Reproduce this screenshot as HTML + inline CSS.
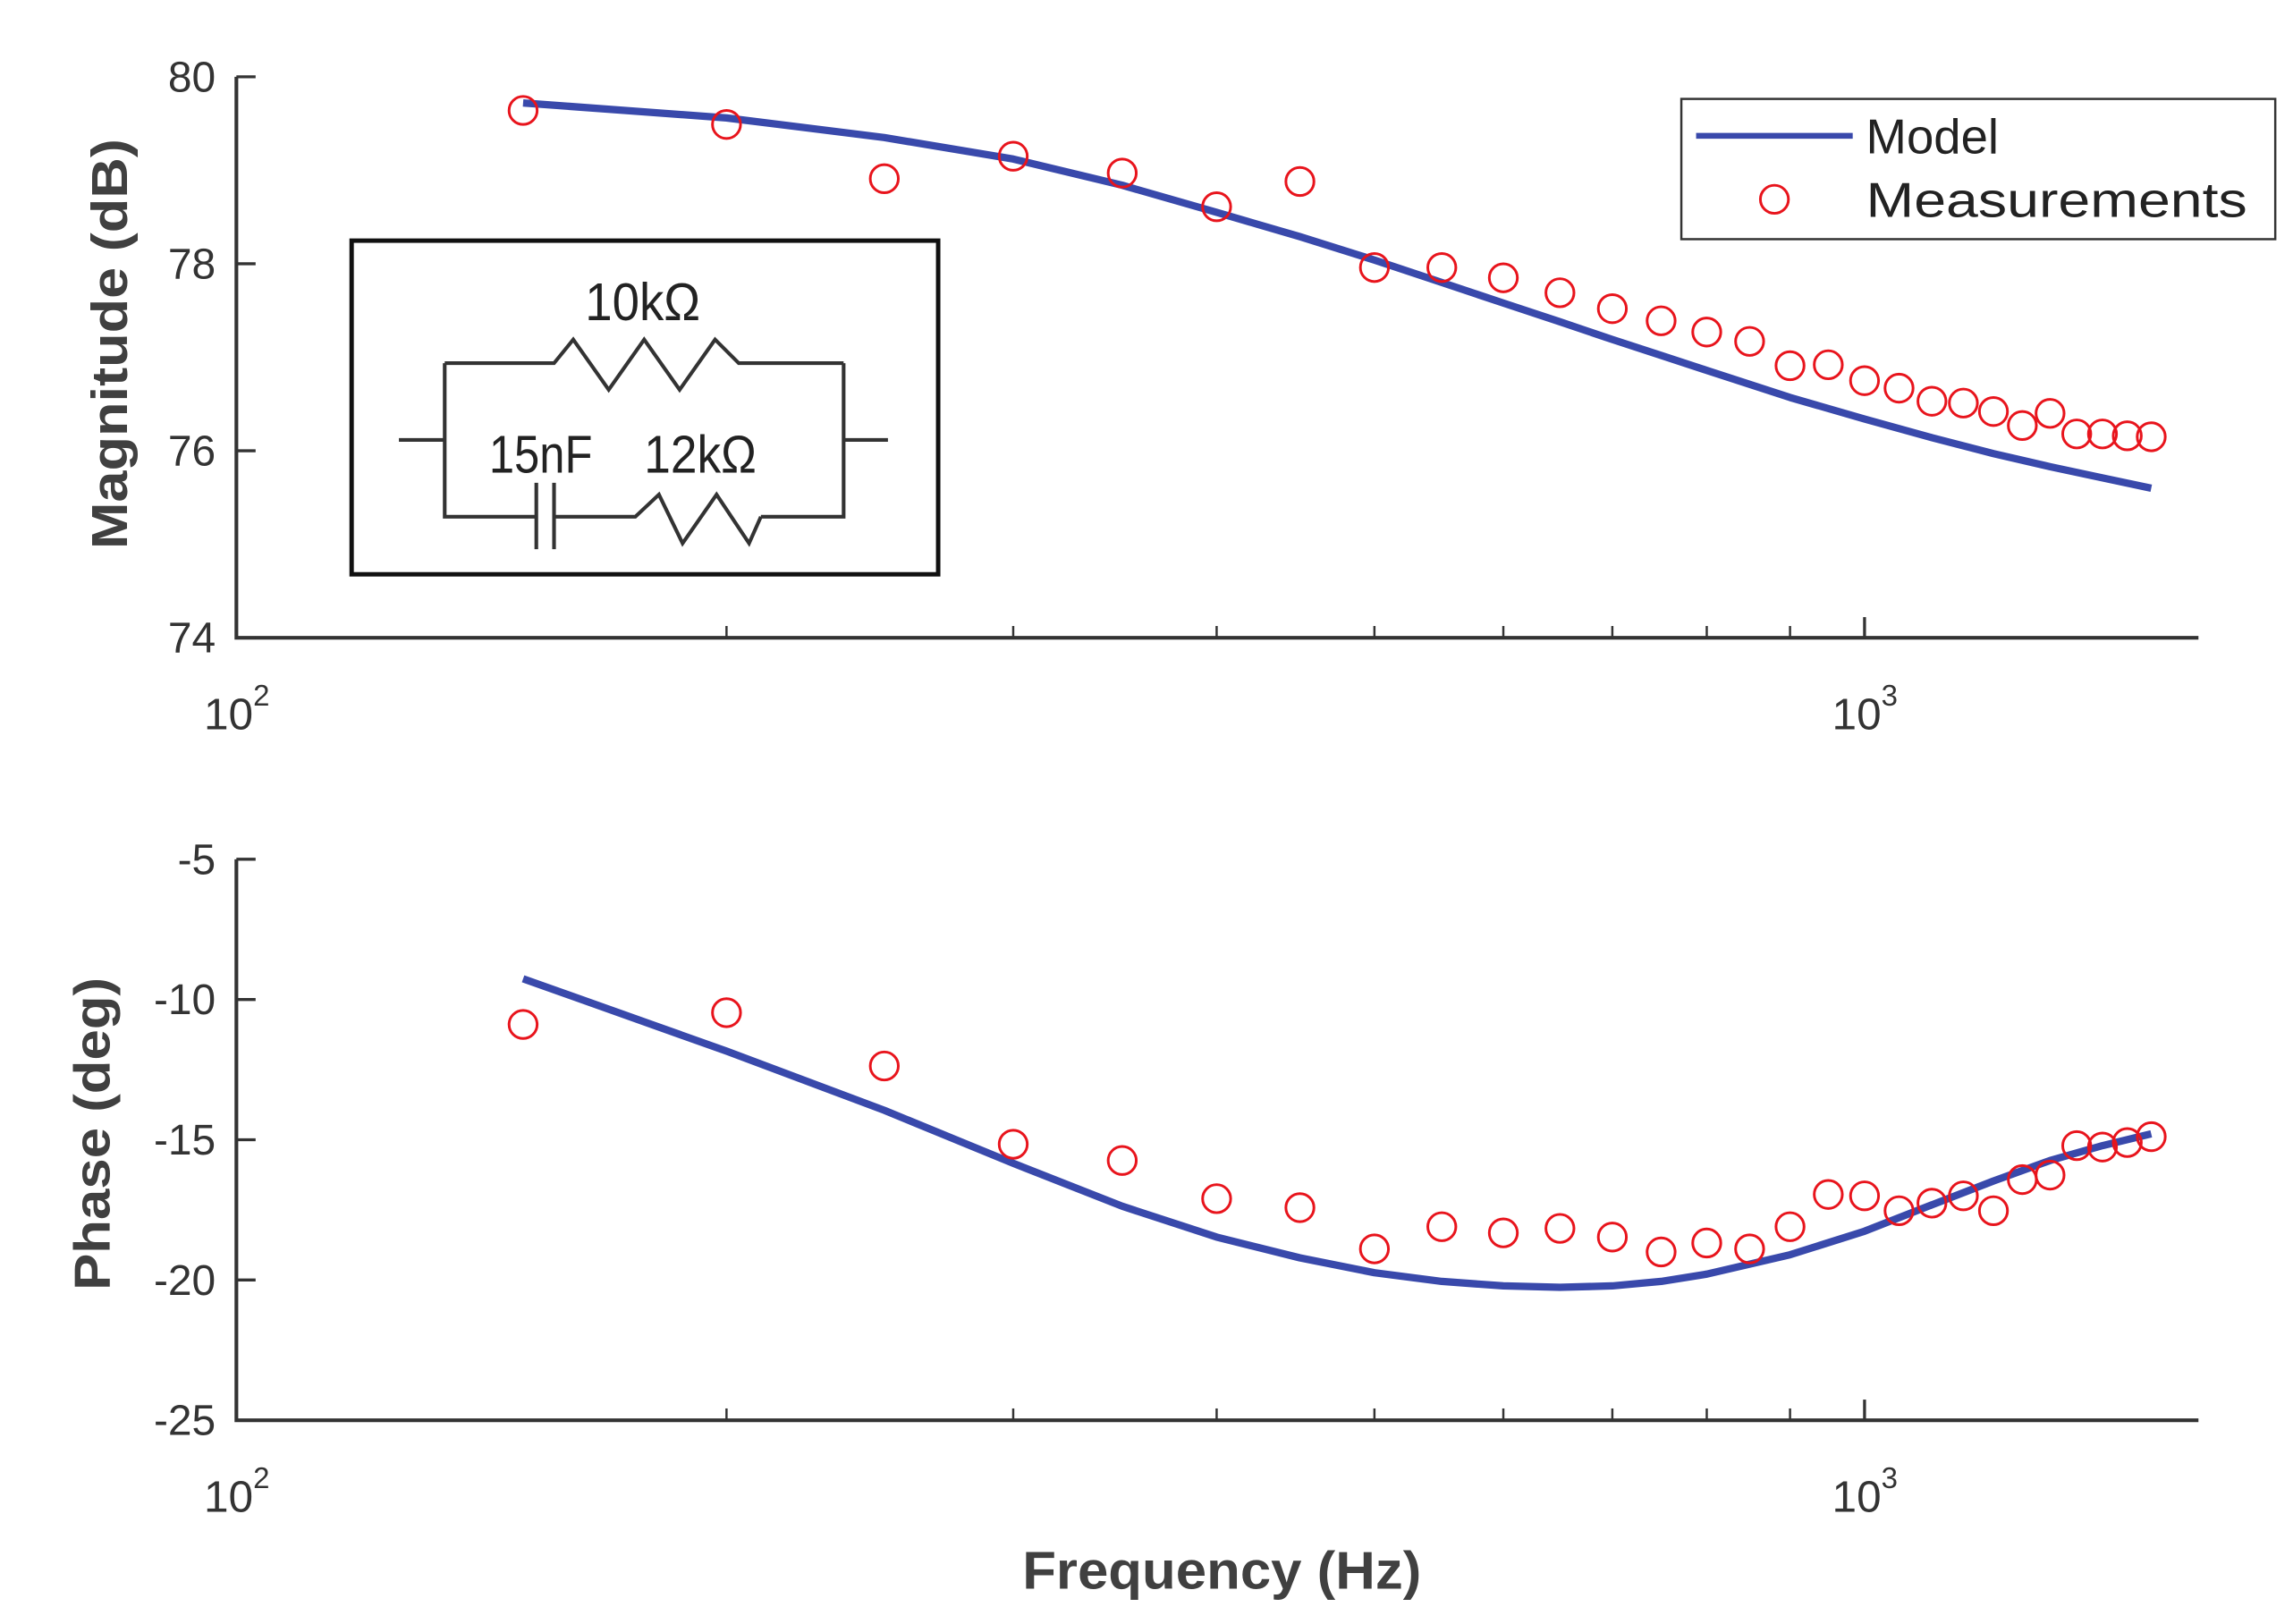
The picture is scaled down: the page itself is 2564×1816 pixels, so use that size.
<!DOCTYPE html>
<html><head><meta charset="utf-8"><style>
html,body{margin:0;padding:0;background:#fff;}
svg{display:block;}
</style></head><body>
<svg id="chart" width="2564" height="1816" viewBox="0 0 1552 1100" preserveAspectRatio="none" xmlns="http://www.w3.org/2000/svg" font-family="Liberation Sans, sans-serif">
<g id="mag"></g>
<g id="ph"></g>
<g fill="none" stroke="#333" stroke-width="2.5">
  <rect x="238" y="163" width="397" height="226" stroke="#111" stroke-width="3" fill="#fff"/>
  <polyline points="301,246 375,246 388,230 412,264 436,230 460,264 484,230 500,246 571,246"/>
  <polyline points="270,298 301,298"/><polyline points="571,298 601,298"/>
  <polyline points="301,246 301,350 362,350"/><polyline points="571,246 571,350 515,350"/>
  <line x1="363" y1="327" x2="363" y2="372"/><line x1="375" y1="327" x2="375" y2="372"/>
  <polyline points="376,350 430,350 446,335 462,368 485,335 507,368 515,350"/>
</g>
<text x="435" y="217" font-size="36" text-anchor="middle" fill="#222" textLength="78" lengthAdjust="spacingAndGlyphs">10kΩ</text>
<text x="366" y="320" font-size="36" text-anchor="middle" fill="#222" textLength="70" lengthAdjust="spacingAndGlyphs">15nF</text>
<text x="474" y="320" font-size="36" text-anchor="middle" fill="#222" textLength="76" lengthAdjust="spacingAndGlyphs">12kΩ</text>
<g>
  <rect x="1138" y="67" width="402" height="95" fill="#fff" stroke="#333" stroke-width="1.5"/>
  <line x1="1148" y1="92" x2="1254" y2="92" stroke="#3949ab" stroke-width="4"/>
  <text x="1263" y="104" font-size="33" fill="#222">Model</text>
  <circle cx="1201" cy="135" r="9.5" fill="none" stroke="#e8141c" stroke-width="1.8"/>
  <text x="1263" y="147" font-size="33" fill="#222" textLength="258" lengthAdjust="spacingAndGlyphs">Measurements</text>
</g>
<text transform="translate(86,233) rotate(-90)" font-size="34" font-weight="bold" text-anchor="middle" fill="#404040" textLength="278" lengthAdjust="spacingAndGlyphs">Magnitude (dB)</text>
<text transform="translate(74,768) rotate(-90)" font-size="34" font-weight="bold" text-anchor="middle" fill="#404040" textLength="212" lengthAdjust="spacingAndGlyphs">Phase (deg)</text>
<text x="827" y="1076" font-size="36" font-weight="bold" text-anchor="middle" fill="#404040" textLength="270" lengthAdjust="spacingAndGlyphs">Frequency (Hz)</text>
<script>
const freqs=[150,200,250,300,350,400,450,500,550,600,650,700,750,800,850,900,950,1000,1050,1100,1150,1200,1250,1300,1350,1400,1450,1500];
const magMeas=[79.64,79.49,78.91,79.15,78.97,78.61,78.88,77.96,77.96,77.85,77.69,77.52,77.39,77.27,77.17,76.91,76.92,76.75,76.67,76.53,76.51,76.42,76.27,76.40,76.18,76.18,76.16,76.15];
const phMeas=[-10.89,-10.47,-12.37,-15.16,-15.74,-17.10,-17.42,-18.89,-18.10,-18.32,-18.16,-18.47,-19.00,-18.68,-18.89,-18.10,-16.95,-17.00,-17.53,-17.26,-17.00,-17.53,-16.42,-16.26,-15.21,-15.26,-15.10,-14.89];
const modelFreqs=[150,200,250,300,350,400,450,500,550,600,650,700,750,800,900,1000,1100,1200,1300,1400,1500];
const magModel=[79.72,79.56,79.35,79.12,78.84,78.55,78.29,78.04,77.80,77.58,77.38,77.19,77.02,76.86,76.57,76.34,76.14,75.97,75.83,75.71,75.60];
const phModel=[-9.26,-11.84,-13.95,-15.84,-17.37,-18.47,-19.21,-19.74,-20.05,-20.21,-20.26,-20.21,-20.05,-19.79,-19.10,-18.26,-17.32,-16.47,-15.74,-15.21,-14.79];
const magTicks=[74,76,78,80];
const phTicks=[-25,-20,-15,-10,-5];
const minorTicks=[200,300,400,500,600,700,800,900];
const NS='http://www.w3.org/2000/svg';
const xS=f=>160+1102*Math.log10(f/100);
function mk(p,t,a){const e=document.createElementNS(NS,t);for(const k in a)e.setAttribute(k,a[k]);p.appendChild(e);return e;}
function panel(g,y0,y1,vmin,vmax,ticks,meas,model,nm){
  const yS=v=>y1-(v-vmin)/(vmax-vmin)*(y1-y0);
  const ax=mk(g,'path',{d:`M160,${y0} V${y1} H1488`,fill:'none',stroke:'#333','stroke-width':2.5});
  
  
  ticks.forEach(v=>{const y=yS(v);mk(g,'line',{x1:160,x2:173,y1:y,y2:y,stroke:'#333','stroke-width':2});
    const t=mk(g,'text',{x:146,y:y+10,'font-size':29,'text-anchor':'end',fill:'#333'});t.textContent=v;
    
    });
  minorTicks.forEach(f=>mk(g,'line',{x1:xS(f),x2:xS(f),y1:y1,y2:y1-8,stroke:'#333','stroke-width':1.5}));
  mk(g,'line',{x1:xS(1000),x2:xS(1000),y1:y1,y2:y1-14,stroke:'#333','stroke-width':2});
  [[100,'2'],[1000,'3']].forEach(([f,e])=>{
    const t=mk(g,'text',{x:xS(f)-22,y:y1+62,'font-size':30,fill:'#333'});
    
    
    const a=mk(t,'tspan',{});a.textContent='10';
    const b=mk(t,'tspan',{dy:-16,'font-size':20});b.textContent=e;});
  const l=mk(g,'polyline',{points:modelFreqs.map((f,i)=>xS(f)+','+yS(model[i])).join(' '),fill:'none',stroke:'#3949ab','stroke-width':5,'stroke-linejoin':'round'});
  
  
  freqs.forEach((f,i)=>{const c=mk(g,'circle',{cx:xS(f),cy:yS(meas[i]),r:9.5,fill:'none',stroke:'#e8141c','stroke-width':1.8});
    
    });
}
panel(document.getElementById('mag'),52,432,74,80,magTicks,magMeas,magModel,'magnitude');
panel(document.getElementById('ph'),582,962,-25,-5,phTicks,phMeas,phModel,'phase');
</script>
</svg>
</body></html>
